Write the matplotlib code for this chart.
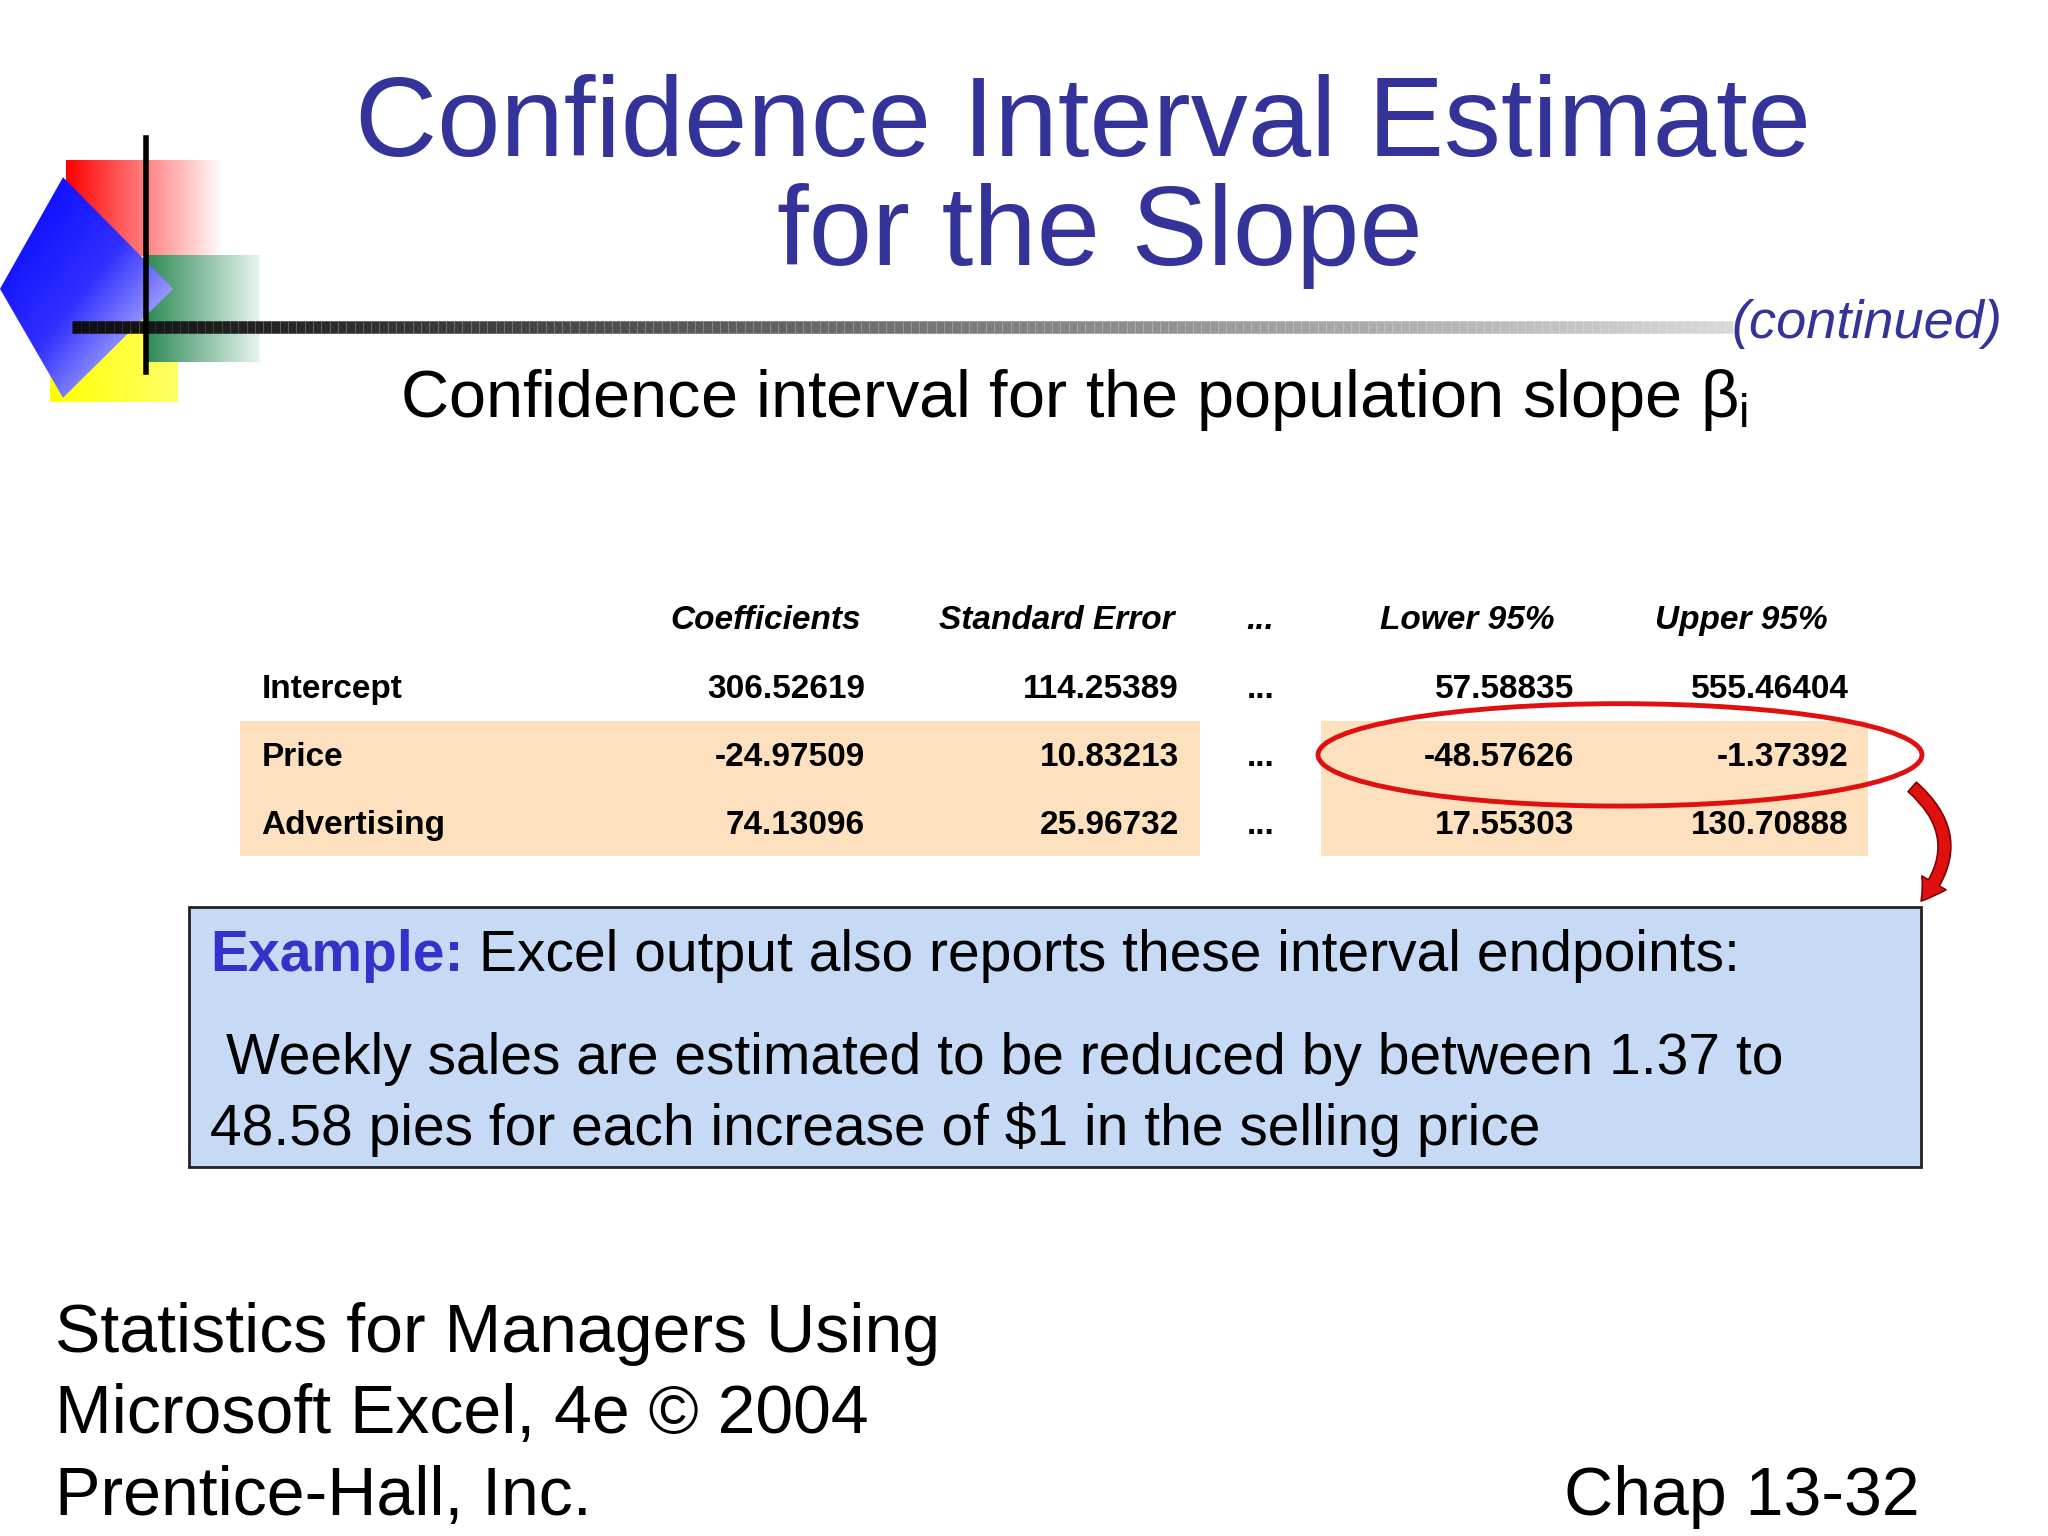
import numpy as np
import matplotlib.pyplot as plt
from matplotlib.patches import Rectangle, Ellipse, Polygon, FancyArrowPatch
from matplotlib.colors import LinearSegmentedColormap

plt.rcParams["font.family"] = "Liberation Sans"

# table data
columns = ["Coefficients", "Standard Error", "...", "Lower 95%", "Upper 95%"]
row_names = ["Intercept", "Price", "Advertising"]
coefficients = ["306.52619", "-24.97509", "74.13096"]
std_errors = ["114.25389", "10.83213", "25.96732"]
lower_95 = ["57.58835", "-48.57626", "17.55303"]
upper_95 = ["555.46404", "-1.37392", "130.70888"]

W, H = 1560, 1170
fig = plt.figure(figsize=(20.48, 15.36), dpi=100)
ax = fig.add_axes([0, 0, 1, 1])
ax.set_xlim(0, W)
ax.set_ylim(H, 0)
ax.axis("off")

def grad_rect(x0, x1, y0, y1, c0, c1, z=1):
    cmap = LinearSegmentedColormap.from_list("g", [c0, c1])
    img = np.linspace(0, 1, 256)[None, :]
    ax.imshow(img, cmap=cmap, extent=[x0, x1, y1, y0], aspect="auto", zorder=z)

# logo
grad_rect(50, 170, 122, 195, "#ff0000", "#ffffff", z=1)
grad_rect(38, 135, 232, 306, "#ffff00", "#ffff66", z=1)
grad_rect(112, 198, 195, 276, "#2e8b57", "#e8f5ee", z=2)
diamond = Polygon([(48, 135), (132, 220), (48, 303), (0, 220)], closed=True,
                  facecolor="none", edgecolor="none", zorder=3)
ax.add_patch(diamond)
cm = LinearSegmentedColormap.from_list("b", ["#0000ff", "#3030ff", "#ffffff"])
gx, gy = np.meshgrid(np.linspace(0, 1, 256), np.linspace(0, 1, 256))
im = ax.imshow((gx + gy) / 2, cmap=cm, extent=[0, 132, 303, 135],
               aspect="auto", zorder=3)
im.set_clip_path(diamond)
ax.plot([111, 111], [105, 283], color="black", lw=4, zorder=5)
# horizontal rule fading to gray
n = 200
xs = np.linspace(55, 1320, n + 1)
for i in range(n):
    c = 0.05 + 0.8 * i / n
    ax.plot(xs[i:i + 2], [249, 249], color=(c, c, c), lw=9, solid_capstyle="butt", zorder=4)

title_c = "#333399"
ax.text(825, 97, "Confidence Interval Estimate", ha="center", va="center",
        fontsize=82, color=title_c)
ax.text(838, 180, "for the Slope", ha="center", va="center", fontsize=82, color=title_c)
ax.text(1525, 247, "(continued)", ha="right", va="center", fontsize=39,
        style="italic", color=title_c)
ax.text(305, 305, r"Confidence interval for the population slope $\mathregular{\beta_i}$",
        ha="left", va="center", fontsize=48)

# table highlight
hl = "#fde0bd"
ax.add_patch(Rectangle((183, 549), 731, 103, facecolor=hl, edgecolor="none"))
ax.add_patch(Rectangle((1006, 549), 417, 103, facecolor=hl, edgecolor="none"))

fs = 24
header_x = [656, 895, 960, 1184, 1392]
for x, c in zip(header_x, columns):
    ax.text(x, 473, c, ha="center" if c == "..." else "right", va="center",
            fontsize=fs, weight="bold", style="italic")
row_y = [525, 577, 629]
for i, y in enumerate(row_y):
    ax.text(199, y, row_names[i], ha="left", va="center", fontsize=fs, weight="bold")
    ax.text(659, y, coefficients[i], ha="right", va="center", fontsize=fs, weight="bold")
    ax.text(898, y, std_errors[i], ha="right", va="center", fontsize=fs, weight="bold")
    ax.text(960, y, "...", ha="center", va="center", fontsize=fs, weight="bold")
    ax.text(1199, y, lower_95[i], ha="right", va="center", fontsize=fs, weight="bold")
    ax.text(1408, y, upper_95[i], ha="right", va="center", fontsize=fs, weight="bold")

ax.add_patch(Ellipse((1234, 575), 460, 78, facecolor="none", edgecolor="#e01010", lw=3.5, zorder=6))
ax.add_patch(FancyArrowPatch((1455, 598), (1462, 688), connectionstyle="arc3,rad=-0.5",
                             arrowstyle="simple,head_width=20,head_length=16,tail_width=9",
                             facecolor="#e01010", edgecolor="#800000", lw=1.2, zorder=6))

# example box
ax.add_patch(Rectangle((144, 691), 1319, 198, facecolor="#c6d9f5", edgecolor="#222222", lw=2))
ax.text(160, 728, "Example:", ha="left", va="center", fontsize=41, weight="bold", color="#3333cc")
ax.text(365, 728, "Excel output also reports these interval endpoints:", ha="left",
        va="center", fontsize=41)
ax.text(172, 807, "Weekly sales are estimated to be reduced by between 1.37 to",
        ha="left", va="center", fontsize=41)
ax.text(160, 860, "48.58 pies for each increase of $1 in the selling price",
        ha="left", va="center", fontsize=41)

# footer
for y, t in zip([1016, 1078, 1140], ["Statistics for Managers Using",
                                     "Microsoft Excel, 4e \u00a9 2004",
                                     "Prentice-Hall, Inc."]):
    ax.text(42, y, t, ha="left", va="center", fontsize=49)
ax.text(1462, 1140, "Chap 13-32", ha="right", va="center", fontsize=49)

fig.savefig("out.png", dpi=100)
